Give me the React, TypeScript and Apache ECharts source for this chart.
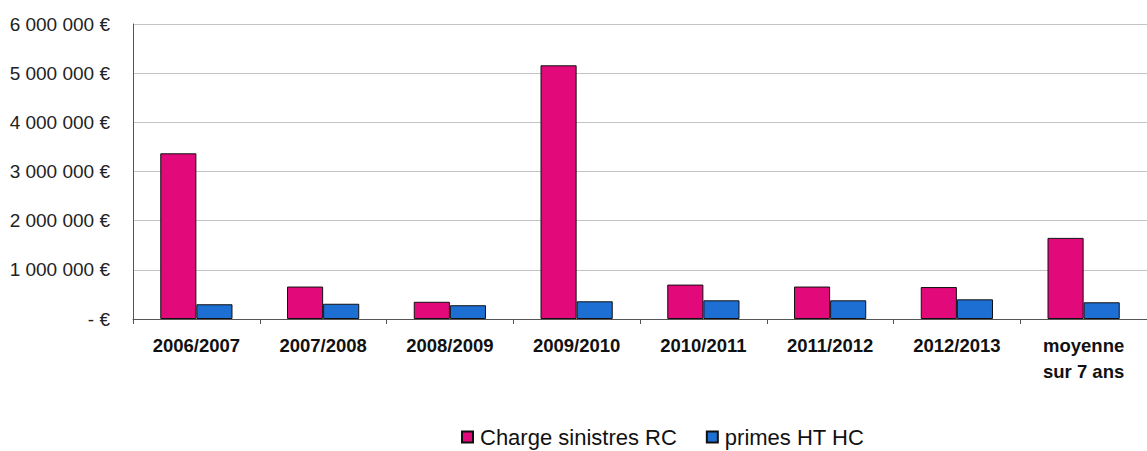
import React, { useEffect, useRef } from "react";
import * as echarts from "echarts";

const categories = [
  "2006/2007",
  "2007/2008",
  "2008/2009",
  "2009/2010",
  "2010/2011",
  "2011/2012",
  "2012/2013",
  "moyenne\nsur 7 ans",
];
const chargeSinistres = [3370000, 660000, 350000, 5160000, 700000, 660000, 650000, 1650000];
const primesHT = [300000, 310000, 280000, 360000, 380000, 380000, 400000, 340000];
const seriesNames = ["Charge sinistres RC", "primes HT HC"];

const FONT = "'Liberation Sans', Arial, Helvetica, sans-serif";

function fmtEuro(v: number): string {
  if (v === 0) return "- €";
  const s = String(Math.round(v)).replace(/\B(?=(\d{3})+(?!\d))/g, " ");
  return s + " €";
}

export default function App() {
  const ref = useRef<HTMLDivElement>(null);
  useEffect(() => {
    document.body.style.margin = "0";
    if (!ref.current) return;
    const chart = echarts.init(ref.current, null, { renderer: "svg" });
    chart.setOption({
      animation: false,
      backgroundColor: "#ffffff",
      textStyle: { fontFamily: FONT },
      grid: { left: 133, top: 24, width: 1024, height: 295, containLabel: false },
      legend: {
        left: 456,
        top: 421,
        itemWidth: 11,
        itemHeight: 11,
        itemGap: 29,
        icon: "rect",
        textStyle: { fontSize: 22, color: "#111", fontFamily: FONT, padding: [0, 0, 0, 2] },
        data: seriesNames,
      },
      xAxis: {
        type: "category",
        data: categories,
        axisLine: { lineStyle: { color: "#555", width: 1 } },
        axisTick: { show: true, length: 5, lineStyle: { color: "#555" } },
        axisLabel: {
          fontSize: 18.5,
          fontWeight: "bold",
          color: "#111",
          margin: 13,
          lineHeight: 26,
          interval: 0,
          fontFamily: FONT,
        },
      },
      yAxis: {
        type: "value",
        min: 0,
        max: 6000000,
        interval: 1000000,
        axisLine: { show: true, lineStyle: { color: "#555", width: 1 } },
        axisTick: { show: false },
        splitLine: { lineStyle: { color: "#c4c4c4", width: 1 } },
        axisLabel: {
          fontSize: 19,
          color: "#222",
          margin: 23,
          fontFamily: FONT,
          formatter: (v: number) => fmtEuro(v),
        },
      },
      series: [
        {
          name: seriesNames[0],
          type: "bar",
          data: chargeSinistres,
          barWidth: "28.5%",
          barGap: "0%",
          itemStyle: { color: "#E2097A", borderColor: "#111", borderWidth: 1 },
        },
        {
          name: seriesNames[1],
          type: "bar",
          data: primesHT,
          barWidth: "28.5%",
          barGap: "0%",
          itemStyle: { color: "#1D6FD3", borderColor: "#111", borderWidth: 1 },
        },
      ],
    });
    return () => chart.dispose();
  }, []);
  return <div ref={ref} style={{ width: 1147, height: 451 }} />;
}
